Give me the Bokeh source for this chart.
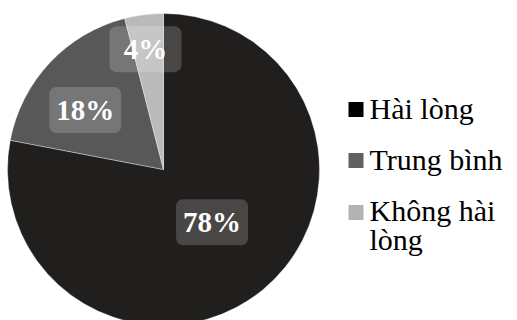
import math
from bokeh.plotting import figure
from bokeh.models import Range1d, ColumnDataSource, BoxAnnotation
from bokeh.core.properties import value
from bokeh.embed import file_html
from bokeh.resources import INLINE

# ---- data ----
categories = ["Hài lòng", "Trung bình", "Không hài lòng"]
legend_labels = ["Hài lòng", "Trung bình", "Không hài\nlòng"]
percent = [78, 18, 4]
pct_labels = ["78%", "18%", "4%"]

# ---- style ----
pie_colors = ["#211f1e", "#585858", "#bababa"]
legend_colors = ["#000000", "#606060", "#b2b2b2"]
label_r = [0.46, 0.63, 0.78]       # radial position of % labels (fraction of radius)
label_rot = [3.0, 6.0, 1.3]        # small angular nudge of labels (degrees)
FONT = value("Liberation Serif")

W, H = 517, 320
cx, cy, R = 163, 151, 156
BOX_W, BOX_H = 72, 46

p = figure(width=W, height=H, output_backend="svg", toolbar_location=None,
           x_range=Range1d(0, W), y_range=Range1d(0, H), min_border=0)
p.axis.visible = False
p.grid.visible = False
p.outline_line_color = None
p.background_fill_color = "white"
p.border_fill_color = "white"

total = sum(percent)
starts, ends, lx, ly = [], [], [], []
cum = 0.0
for i, v in enumerate(percent):
    a0 = math.pi / 2 - 2 * math.pi * cum / total
    cum += v
    a1 = math.pi / 2 - 2 * math.pi * cum / total
    starts.append(a0)
    ends.append(a1)
    mid = (a0 + a1) / 2 + math.radians(label_rot[i])
    lx.append(cx + R * label_r[i] * math.cos(mid))
    ly.append(cy + R * label_r[i] * math.sin(mid))

src = ColumnDataSource(dict(start=starts, end=ends, color=pie_colors,
                            cat=categories))
p.wedge(x=cx, y=cy, radius=R, radius_units="screen", start_angle="start",
        end_angle="end", direction="clock", fill_color="color",
        line_color="white", line_width=0.6, line_alpha=0.6, source=src)

for x, y in zip(lx, ly):
    p.add_layout(BoxAnnotation(left=x - BOX_W / 2, right=x + BOX_W / 2,
                               bottom=y - BOX_H / 2, top=y + BOX_H / 2,
                               fill_color="white", fill_alpha=0.18,
                               line_color=None, border_radius=7,
                               level="overlay"))

lsrc = ColumnDataSource(dict(x=lx, y=ly, t=pct_labels))
p.text(x="x", y="y", text="t", source=lsrc, text_color="white",
       text_font=FONT, text_font_style="bold",
       text_font_size="29px", text_align="center", text_baseline="middle",
       level="overlay")

# ---- legend (drawn manually) ----
leg_x = 355.5
leg_text_x = 369
leg_sq_y = [H - 109, H - 160, H - 212]
line_h = 27
leg_text_y = [y + 1 - (lab.count("\n")) * line_h / 2
              for y, lab in zip(leg_sq_y, legend_labels)]
p.scatter(x=[leg_x] * 3, y=leg_sq_y, marker="square", size=15,
          fill_color=legend_colors, line_color=None)
p.text(x=[leg_text_x] * 3, y=leg_text_y, text=legend_labels, text_color="black",
       text_font=FONT, text_font_size="30px",
       text_align="left", text_baseline="middle", text_line_height=line_h / 30)

open("out.html", "w").write(file_html(p, INLINE))
